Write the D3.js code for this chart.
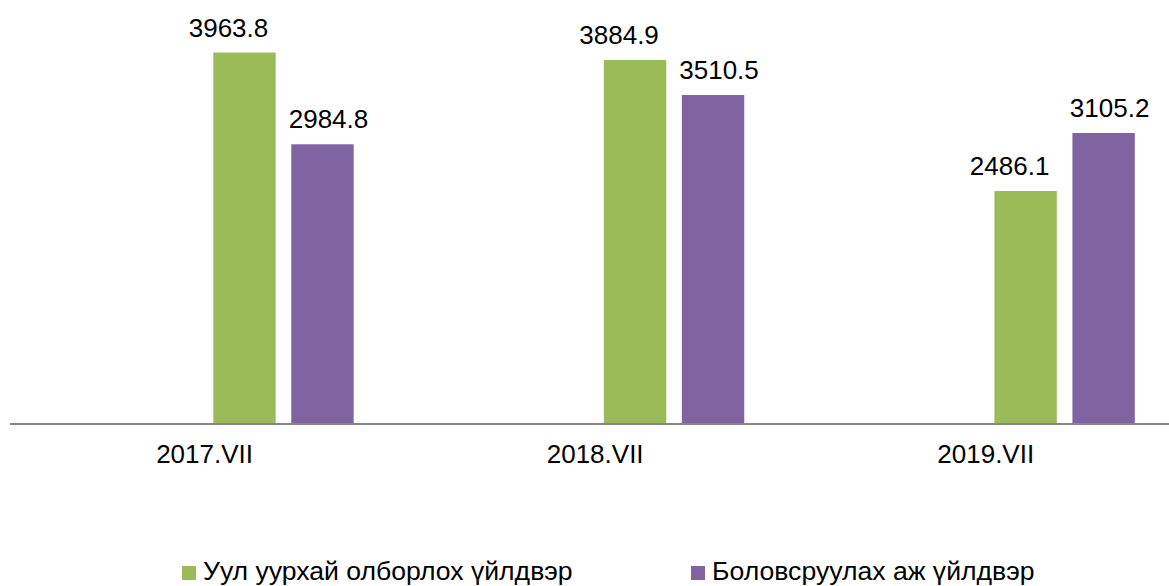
<!DOCTYPE html>
<html lang="mn">
<head>
    <meta charset="utf-8">
    <title>Chart</title>
    <script type="text/javascript" src="https://d3js.org/d3.v7.min.js"></script>
    <style>
        body { margin: 0; background: #fff; }
        text { font-family: "Liberation Sans", Arial, sans-serif; fill: #000; }
    </style>
</head>
<body>
<script type="text/javascript">
        var w = 1169;
        var h = 586;

        // data
        var categories = ["2017.VII", "2018.VII", "2019.VII"];
        var seriesNames = ["Уул уурхай олборлох үйлдвэр", "Боловсруулах аж үйлдвэр"];
        var mining = [3963.8, 3884.9, 2486.1];
        var manufacturing = [2984.8, 3510.5, 3105.2];
        var colors = ["#9BBB59", "#8064A2"];

        var seriesValues = [mining, manufacturing];
        var baseY = 424;

        var svg = d3.select("body")
            .append("svg")
            .attr("width", w)
            .attr("height", h);

        var x0 = d3.scaleBand()
            .domain(categories)
            .range([9.3, 1181]);

        var x1 = d3.scaleBand()
            .domain([0, 1])
            .range([0, 140.4])
            .paddingInner(0.2);

        var y = d3.scaleLinear()
            .domain([0, 4500])
            .range([baseY, 2.3]);

        // label nudges per series (as placed in the original)
        var labelDx = [-16, 6];

        var groups = svg.selectAll("g.cat")
            .data(categories)
            .enter()
            .append("g")
            .attr("class", "cat")
            .attr("transform", function(d) {
                return "translate(" + (x0(d) + x0.bandwidth() / 2 + 8.7) + ",0)";
            });

        groups.selectAll("rect")
            .data(function(d, i) {
                return seriesValues.map(function(s, k) { return {k: k, v: s[i]}; });
            })
            .enter()
            .append("rect")
            .attr("x", function(d) { return x1(d.k); })
            .attr("y", function(d) { return y(d.v); })
            .attr("width", x1.bandwidth())
            .attr("height", function(d) { return baseY - y(d.v); })
            .attr("fill", function(d) { return colors[d.k]; });

        groups.selectAll("text.val")
            .data(function(d, i) {
                return seriesValues.map(function(s, k) { return {k: k, v: s[i]}; });
            })
            .enter()
            .append("text")
            .attr("class", "val")
            .attr("x", function(d) { return x1(d.k) + x1.bandwidth() / 2 + labelDx[d.k]; })
            .attr("y", function(d) { return y(d.v) - 16; })
            .attr("text-anchor", "middle")
            .style("font-size", "26px")
            .text(function(d) { return d.v.toFixed(1); });

        // category axis
        var xAxis = d3.axisBottom(x0).tickSize(0).tickPadding(0);
        var ax = svg.append("g")
            .attr("transform", "translate(0," + baseY + ")")
            .call(xAxis);
        ax.select(".domain")
            .attr("d", "M10,0H1169")
            .attr("stroke", "#868686")
            .attr("stroke-width", 2);
        ax.selectAll("text")
            .attr("dy", null)
            .attr("y", 39)
            .style("font-size", "26px")
            .style("font-family", "'Liberation Sans', Arial, sans-serif")
            .attr("fill", "#000");

        // legend
        var legendX = [182, 691];
        var legend = svg.selectAll("g.leg")
            .data(seriesNames)
            .enter()
            .append("g")
            .attr("class", "leg")
            .attr("transform", function(d, i) { return "translate(" + legendX[i] + ",566)"; });

        legend.append("rect")
            .attr("width", 14)
            .attr("height", 14)
            .attr("fill", function(d, i) { return colors[i]; });

        legend.append("text")
            .attr("x", 21)
            .attr("y", 14)
            .style("font-size", "26.6px")
            .text(function(d) { return d; });
</script>
</body>
</html>
